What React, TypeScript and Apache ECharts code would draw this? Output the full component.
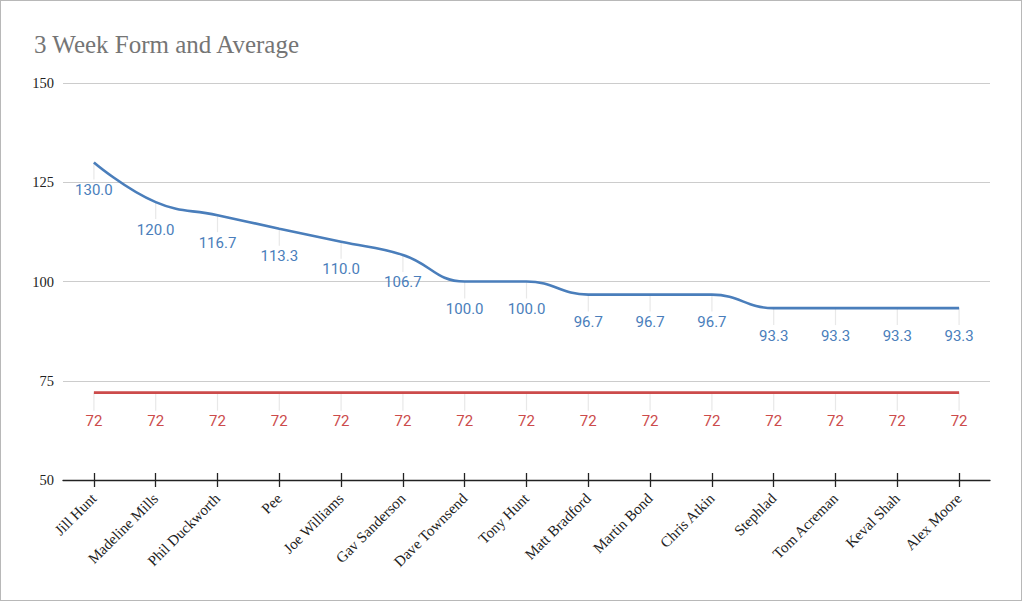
import React, { useEffect, useRef } from "react";
import * as echarts from "echarts";

const titleText = "3 Week Form and Average";
const players = [
  "Jill Hunt", "Madeline Mills", "Phil Duckworth", "Pee", "Joe Williams",
  "Gav Sanderson", "Dave Townsend", "Tony Hunt", "Matt Bradford", "Martin Bond",
  "Chris Atkin", "Stephlad", "Tom Acreman", "Keval Shah", "Alex Moore",
];
const formValues = [130, 120, 116.7, 113.3, 110, 106.7, 100, 100, 96.7, 96.7, 96.7, 93.3, 93.3, 93.3, 93.3];
const averageValues = [72, 72, 72, 72, 72, 72, 72, 72, 72, 72, 72, 72, 72, 72, 72];
const yTicks = { min: 50, max: 150, interval: 25 };

function leaderSeries(values: number[], len: number) {
  return {
    type: "custom",
    data: values.map((v, i) => [i, v]),
    silent: true,
    z: 1,
    renderItem: (_params: any, api: any) => {
      const p = api.coord([api.value(0), api.value(1)]);
      return {
        type: "line",
        shape: { x1: p[0], y1: p[1], x2: p[0], y2: p[1] + len },
        style: { stroke: "#e8e8e8", lineWidth: 1.2 },
      };
    },
  };
}

export default function App() {
  const ref = useRef<HTMLDivElement>(null);
  useEffect(() => {
    if (!ref.current) return;
    const chart = echarts.init(ref.current, undefined, { renderer: "svg" });
    const serif = "'Liberation Serif', 'Times New Roman', serif";
    const tickStyle = { color: "#222", width: 1.3 };
    chart.setOption({
      animation: false,
      backgroundColor: "#fff",
      title: {
        text: titleText,
        left: 28,
        top: 26,
        textStyle: { fontFamily: serif, fontSize: 25, fontWeight: "normal", color: "#757575" },
      },
      grid: { left: 62, right: 31, top: 82, bottom: 120, containLabel: false },
      xAxis: [
        {
          type: "category",
          data: players,
          boundaryGap: true,
          axisLine: { show: true, lineStyle: tickStyle },
          axisTick: { show: true, interval: 0, alignWithLabel: true, length: 7, lineStyle: tickStyle },
          axisLabel: { rotate: 45, fontFamily: serif, fontSize: 15, color: "#222", margin: 16, interval: 0 },
          splitLine: { show: false },
        },
        {
          type: "category",
          data: players,
          position: "bottom",
          boundaryGap: true,
          axisLine: { show: false },
          axisTick: { show: true, interval: 0, inside: true, alignWithLabel: true, length: 7, lineStyle: tickStyle },
          axisLabel: { show: false },
          splitLine: { show: false },
        },
      ],
      yAxis: {
        type: "value",
        min: yTicks.min,
        max: yTicks.max,
        interval: yTicks.interval,
        axisLine: { show: false },
        axisTick: { show: false },
        axisLabel: { fontFamily: serif, fontSize: 14.5, color: "#222", margin: 9 },
        splitLine: { lineStyle: { color: "#cccccc", width: 1 } },
      },
      series: [
        leaderSeries(formValues, 17),
        leaderSeries(averageValues, 18),
        {
          name: "Form",
          type: "line",
          data: formValues,
          smooth: 0.45,
          symbol: "circle",
          symbolSize: 0.1,
          showSymbol: true,
          lineStyle: { color: "#4a7ebb", width: 2.6 },
          itemStyle: { color: "#4a7ebb" },
          label: {
            show: true,
            position: "bottom",
            distance: 20,
            fontFamily: "Roboto, sans-serif",
            fontSize: 15,
            color: "#4a7ebb",
            formatter: (p: any) => Number(p.value).toFixed(1),
          },
          z: 3,
        },
        {
          name: "Average",
          type: "line",
          data: averageValues,
          symbol: "circle",
          symbolSize: 0.1,
          showSymbol: true,
          lineStyle: { color: "#cc4b4b", width: 2.6 },
          itemStyle: { color: "#cc4b4b" },
          label: {
            show: true,
            position: "bottom",
            distance: 21,
            fontFamily: "Roboto, sans-serif",
            fontSize: 15,
            color: "#cc4b4b",
          },
          z: 3,
        },
      ],
    });
    return () => chart.dispose();
  }, []);
  return (
    <div
      style={{
        position: "fixed",
        left: 0,
        top: 0,
        width: 1022,
        height: 601,
        border: "1.5px solid #b8b8b8",
        boxSizing: "border-box",
        background: "#fff",
      }}
    >
      <div ref={ref} style={{ width: "100%", height: "100%" }} />
    </div>
  );
}
